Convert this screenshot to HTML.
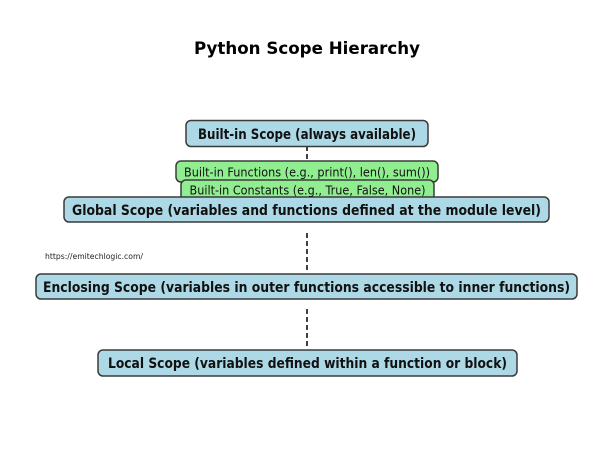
<!DOCTYPE html>
<html><head><meta charset="utf-8"><style>
html,body{margin:0;padding:0;background:#fff;width:600px;height:450px;overflow:hidden}
text{font-family:"DejaVu Sans","Liberation Sans",sans-serif}
</style></head><body>
<svg width="600" height="450" viewBox="0 0 600 450" xmlns="http://www.w3.org/2000/svg">
<text x="307" y="54" text-anchor="middle" font-size="17" font-weight="bold" fill="#000" textLength="226" lengthAdjust="spacingAndGlyphs">Python Scope Hierarchy</text>
<g stroke="#000" stroke-width="1.5" stroke-dasharray="5,3">
<line x1="307" y1="146" x2="307" y2="161"/>
<line x1="307" y1="233" x2="307" y2="272"/>
<line x1="307" y1="309" x2="307" y2="349"/>
</g>
<g stroke="#3a3a3a" stroke-width="1.5">
<rect x="186" y="120.5" width="242" height="26" rx="5" fill="#add8e6"/>
<rect x="176" y="161" width="262" height="21" rx="5" fill="#90ee90"/>
<rect x="181" y="180" width="253" height="20" rx="5" fill="#90ee90"/>
<rect x="64" y="197" width="485" height="25" rx="5" fill="#add8e6"/>
<rect x="36" y="274" width="541" height="25" rx="5" fill="#add8e6"/>
<rect x="98" y="350" width="419" height="26" rx="5" fill="#add8e6"/>
</g>
<g font-weight="bold" font-size="14" fill="#111" text-anchor="middle">
<text x="307" y="139" textLength="218" lengthAdjust="spacingAndGlyphs">Built-in Scope (always available)</text>
<text x="306.5" y="215" textLength="469" lengthAdjust="spacingAndGlyphs">Global Scope (variables and functions defined at the module level)</text>
<text x="306.5" y="292" textLength="527" lengthAdjust="spacingAndGlyphs">Enclosing Scope (variables in outer functions accessible to inner functions)</text>
<text x="307.5" y="368" textLength="399" lengthAdjust="spacingAndGlyphs">Local Scope (variables defined within a function or block)</text>
</g>
<g font-size="12.5" fill="#111" text-anchor="middle">
<text x="307" y="176.5" textLength="246" lengthAdjust="spacingAndGlyphs">Built-in Functions (e.g., print(), len(), sum())</text>
<text x="307.5" y="194.5" textLength="236" lengthAdjust="spacingAndGlyphs">Built-in Constants (e.g., True, False, None)</text>
</g>
<text x="45" y="259" font-size="8" fill="#222" textLength="98" lengthAdjust="spacingAndGlyphs">https://emitechlogic.com/</text>
</svg>
</body></html>
